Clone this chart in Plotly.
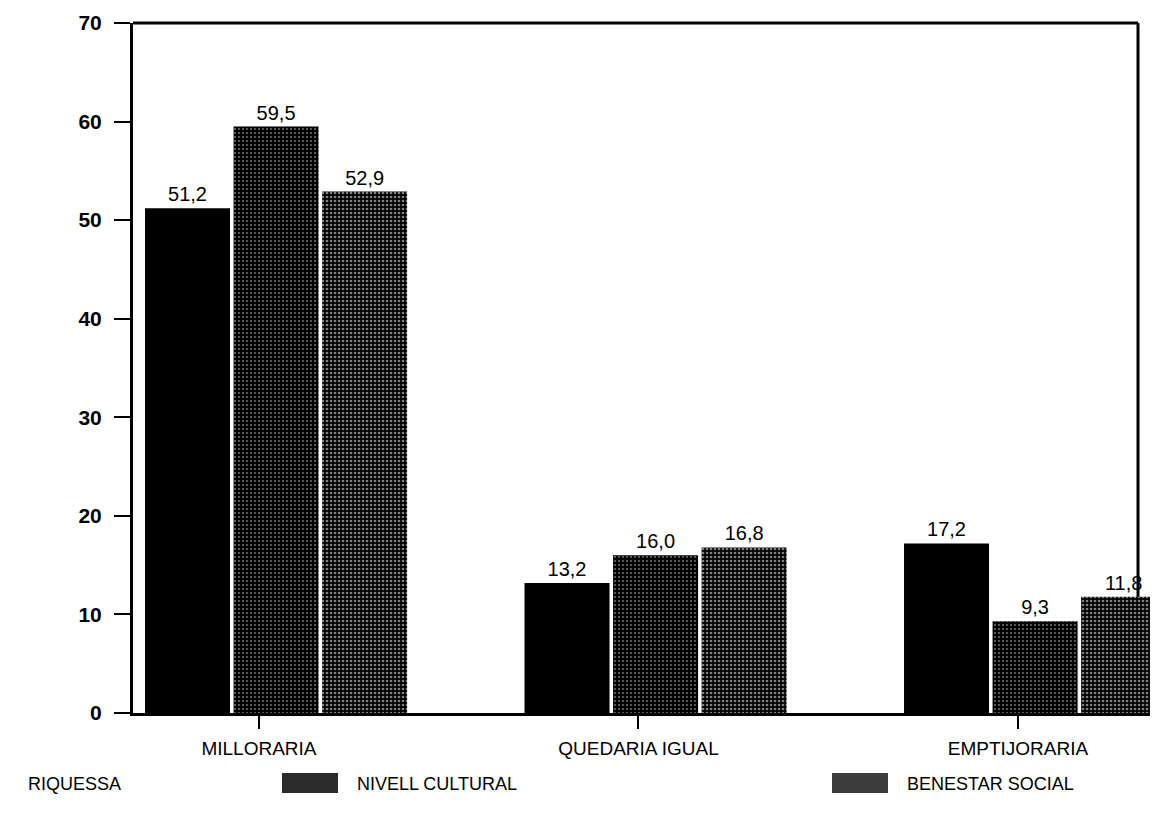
import plotly.graph_objects as go

categories = ["MILLORARIA", "QUEDARIA IGUAL", "EMPTIJORARIA"]
series_names = ["RIQUESSA", "NIVELL CULTURAL", "BENESTAR SOCIAL"]
riquessa = [51.2, 13.2, 17.2]
nivell_cultural = [59.5, 16.0, 9.3]
benestar_social = [52.9, 16.8, 11.8]
y_ticks = [0, 10, 20, 30, 40, 50, 60, 70]

series_values = [riquessa, nivell_cultural, benestar_social]
# dot density of the speckled scan texture for each series
speckle = [0.0, 0.16, 0.36]
swatch_grey = ["#000000", "#2b2b2b", "#3c3c3c"]

# page body has an 8px default margin, so screen px = figure px + 8
OFF = 8
W, H = 1158, 839
ML, MR, MT, MB = 133 - OFF, 0, 23 - OFF, 126 + OFF
PW, PH = W - ML - MR, H - MT - MB


def px_x(px):
    return (px - OFF - ML) / PW


def px_y(py):
    return (H - MB - (py - OFF)) / PH


FONT = "Liberation Sans, Arial, sans-serif"
xs = list(range(len(categories)))

fig = go.Figure()
for name, vals, dens in zip(series_names, series_values, speckle):
    fig.add_trace(go.Bar(
        x=xs, y=vals, name=name,
        marker=dict(
            color="black", line=dict(width=0),
            pattern=dict(shape=".", fgcolor="white", bgcolor="black",
                         size=4, solidity=dens) if dens else None,
        ),
        text=vals, texttemplate="%{y:.1f}", textposition="outside",
        textfont=dict(family=FONT, size=20, color="black"),
        cliponaxis=False, showlegend=False,
    ))

fig.update_layout(
    width=W, height=H,
    margin=dict(l=ML, r=MR, t=MT, b=MB, autoexpand=False),
    paper_bgcolor="white", plot_bgcolor="white",
    separators=",.",
    barmode="group", bargap=0.30, bargroupgap=0.04,
    font=dict(family=FONT, color="black"),
)
fig.update_xaxes(
    range=[-0.377, 2.345],
    tickvals=[i - 0.045 for i in xs], ticktext=categories,
    ticks="outside", ticklen=13, tickwidth=2, tickcolor="black",
    ticklabelstandoff=3,
    tickfont=dict(family=FONT, size=19, color="black"),
    showline=True, linecolor="black", linewidth=3,
    showgrid=False, zeroline=False,
)
fig.update_yaxes(
    range=[0, 70], tickvals=y_ticks,
    ticks="outside", ticklen=16, tickwidth=2, tickcolor="black",
    ticklabelstandoff=8,
    tickfont=dict(family=FONT, size=21, color="black", weight="bold"),
    showline=True, linecolor="black", linewidth=3,
    showgrid=False, zeroline=False,
)

# frame: top and right edges as drawn in the original (bars run over the right edge)
frame_right = px_x(1138)
fig.add_shape(type="line", xref="paper", yref="paper", x0=0, x1=frame_right, y0=1, y1=1,
              line=dict(color="black", width=3))
fig.add_shape(type="line", xref="paper", yref="paper", x0=frame_right, x1=frame_right, y0=0, y1=1,
              line=dict(color="black", width=3), layer="below")

# legend along the bottom; the first swatch lies outside the scanned area
legend_text_px = [26, 355, 905]
for name, grey, tx in zip(series_names, swatch_grey, legend_text_px):
    if tx - 73 >= 0:
        fig.add_shape(
            type="rect", xref="paper", yref="paper",
            x0=px_x(tx - 73), x1=px_x(tx - 17), y0=px_y(793), y1=px_y(773),
            fillcolor=grey, line=dict(width=0),
        )
    fig.add_annotation(
        x=px_x(tx), y=px_y(784), xref="paper", yref="paper",
        text=name, showarrow=False, xanchor="left", yanchor="middle",
        font=dict(family=FONT, size=18, color="black"),
    )

fig.write_html("out.html")
